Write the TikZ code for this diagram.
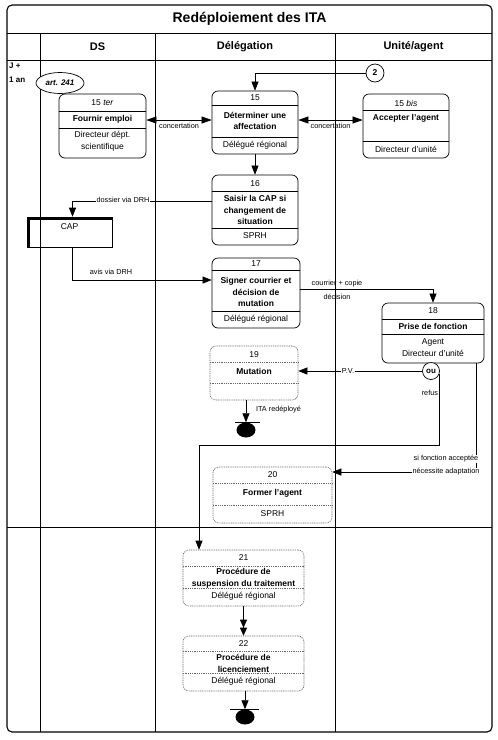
\documentclass[tikz,border=0pt]{standalone}
\usepackage{fontspec}
\setmainfont{Liberation Sans}
\usetikzlibrary{arrows.meta,shapes.geometric}

\tikzset{
  stepbox/.style={draw, rounded corners=6pt, line width=0.7pt, inner sep=0pt},
  dotbox/.style={draw=black!60, dash pattern=on 1pt off 0.8pt, rounded corners=6pt, line width=0.6pt, inner sep=0pt},
  trait/.style={line width=0.5pt},
  traitp/.style={draw=black!60, dash pattern=on 1pt off 0.8pt, line width=0.5pt},
  ligne/.style={line width=0.6pt},
  titre/.style={font=\bfseries\fontsize{14}{16}\selectfont, inner sep=0pt},
  entete/.style={font=\bfseries\fontsize{11}{13}\selectfont, inner sep=0pt},
  num/.style={font=\fontsize{8.5}{11}\selectfont, inner sep=0pt},
  gras/.style={font=\bfseries\fontsize{8.5}{11.5}\selectfont, align=center, inner sep=0pt},
  resp/.style={font=\fontsize{8.5}{12}\selectfont, align=center, inner sep=0pt},
  lbl/.style={font=\fontsize{7.3}{9}\selectfont, inner sep=0.8pt},
  fleche/.style={-{Triangle[length=9pt,width=7pt]}, line width=0.6pt},
  fin/.style={ellipse, fill=black, minimum width=19pt, minimum height=15pt, inner sep=0pt},
}

\begin{document}
\begin{tikzpicture}[x=1pt,y=-1pt]
\useasboundingbox (0,0) rectangle (498,740);

% cadre et couloirs
\draw[line width=1.1pt, rounded corners=5pt] (7,5) rectangle (492,732);
\draw[ligne] (7,33) -- (492,33);
\draw[ligne] (7,60) -- (492,60);
\draw[ligne] (7,527) -- (492,527);
\draw[ligne] (40,33) -- (40,732);
\draw[ligne] (155,33) -- (155,732);
\draw[ligne] (335,33) -- (335,732);

\node[titre] (titre) at (249.5,19) {Redéploiement des ITA};
\node[entete] (hds) at (97.5,47) {DS};
\node[entete] (hdel) at (245,47) {Délégation};
\node[entete] (hua) at (413.5,47) {Unité/agent};
\node[font=\bfseries\fontsize{8}{14}\selectfont, align=left, anchor=west, inner sep=0pt] (jour) at (9,73) {J +\\1 an};
\node[draw, ellipse, fill=white, line width=0.7pt, minimum width=48pt, minimum height=21pt, inner sep=0pt,
      font=\bfseries\itshape\fontsize{8}{9}\selectfont] (art) at (60,83) {art. 241};

% 15 ter
\node[stepbox, minimum width=87pt, minimum height=64pt] (b15ter) at (102.5,126) {};
\draw[trait] (b15ter.west |- 0,111) -- (b15ter.east |- 0,111);
\draw[trait] (b15ter.west |- 0,128) -- (b15ter.east |- 0,128);
\node[num] (n15ter) at (102.5,103) {15 \textit{ter}};
\node[gras] (a15ter) at (102.5,119) {Fournir emploi};
\node[resp] (r15ter) at (102.5,141) {Directeur dépt.\\scientifique};

% 15
\node[stepbox, minimum width=86pt, minimum height=63pt] (b15) at (255,122.5) {};
\draw[trait] (b15.west |- 0,105) -- (b15.east |- 0,105);
\draw[trait] (b15.west |- 0,137) -- (b15.east |- 0,137);
\node[num] (n15) at (255,98) {15};
\node[gras] (a15) at (255,121) {Déterminer une\\affectation};
\node[resp] (r15) at (255,145) {Délégué régional};

% 15 bis
\node[stepbox, minimum width=86pt, minimum height=64pt] (b15bis) at (406,126) {};
\draw[trait] (b15bis.west |- 0,110) -- (b15bis.east |- 0,110);
\draw[trait] (b15bis.west |- 0,141) -- (b15bis.east |- 0,141);
\node[num] (n15bis) at (406,103) {15 \textit{bis}};
\node[gras] (a15bis) at (406,118) {Accepter l'agent};
\node[resp] (r15bis) at (406,149) {Directeur d'unité};

% 16
\node[stepbox, minimum width=86pt, minimum height=70pt] (b16) at (255,210) {};
\draw[trait] (b16.west |- 0,191) -- (b16.east |- 0,191);
\draw[trait] (b16.west |- 0,228) -- (b16.east |- 0,228);
\node[num] (n16) at (255,184) {16};
\node[gras] (a16) at (255,210) {Saisir la CAP si\\changement de\\situation};
\node[resp] (r16) at (255,236) {SPRH};

% CAP
\node[draw, line width=0.6pt, minimum width=85pt, minimum height=30pt, inner sep=0pt] (cap) at (69.5,232) {};
\draw[line width=3pt] ([xshift=1.5pt]cap.south west) -- ([xshift=1.5pt,yshift=-1.5pt]cap.north west) -- ([yshift=-1.5pt]cap.north east);
\node[num] (tcap) at (69.5,227) {CAP};

% 17
\node[stepbox, minimum width=88pt, minimum height=70pt] (b17) at (256,293) {};
\draw[trait] (b17.west |- 0,270) -- (b17.east |- 0,270);
\draw[trait] (b17.west |- 0,311) -- (b17.east |- 0,311);
\node[num] (n17) at (256,264) {17};
\node[gras] (a17) at (256,292) {Signer courrier et\\décision de\\mutation};
\node[resp] (r17) at (256,319) {Délégué régional};

% 18
\node[stepbox, minimum width=102pt, minimum height=60pt] (b18) at (433,333) {};
\draw[trait] (b18.west |- 0,319) -- (b18.east |- 0,319);
\draw[trait] (b18.west |- 0,334) -- (b18.east |- 0,334);
\node[num] (n18) at (433,311) {18};
\node[gras] (a18) at (433,326.5) {Prise de fonction};
\node[resp] (r18) at (433,347.5) {Agent\\Directeur d'unité};
\node[draw, circle, fill=white, line width=0.7pt, minimum size=17pt, inner sep=0pt,
      font=\bfseries\fontsize{8}{9}\selectfont] (ou) at (431,371) {ou};

% 19
\node[dotbox, minimum width=88pt, minimum height=54pt] (b19) at (254,373) {};
\draw[traitp] (b19.west |- 0,362) -- (b19.east |- 0,362);
\draw[traitp] (b19.west |- 0,383) -- (b19.east |- 0,383);
\node[num] (n19) at (254,355) {19};
\node[gras] (a19) at (254,371) {Mutation};
\node[fin] (fin19) at (246,430) {};
\draw[line width=0.7pt] ([xshift=-11pt]fin19.north) -- ([xshift=14pt]fin19.north);

% 20
\node[dotbox, minimum width=119pt, minimum height=56pt] (b20) at (272.5,495) {};
\draw[traitp] (b20.west |- 0,483) -- (b20.east |- 0,483);
\draw[traitp] (b20.west |- 0,505) -- (b20.east |- 0,505);
\node[num] (n20) at (272.5,475) {20};
\node[gras] (a20) at (272.5,493) {Former l'agent};
\node[resp] (r20) at (272.5,514) {SPRH};

% 21
\node[dotbox, minimum width=121pt, minimum height=56pt] (b21) at (243.5,578) {};
\draw[traitp] (b21.west |- 0,566) -- (b21.east |- 0,566);
\draw[traitp] (b21.west |- 0,588) -- (b21.east |- 0,588);
\node[num] (n21) at (243.5,558) {21};
\node[gras] (a21) at (243.5,578.5) {Procédure de\\suspension du traitement};
\node[resp] (r21) at (243.5,596.5) {Délégué régional};

% 22
\node[dotbox, minimum width=121pt, minimum height=55pt] (b22) at (243.5,663.5) {};
\draw[traitp] (b22.west |- 0,651) -- (b22.east |- 0,651);
\draw[traitp] (b22.west |- 0,673) -- (b22.east |- 0,673);
\node[num] (n22) at (243.5,644) {22};
\node[gras] (a22) at (243.5,663.5) {Procédure de\\licenciement};
\node[resp] (r22) at (243.5,681.5) {Délégué régional};
\node[fin] (fin22) at (245,717) {};
\draw[line width=0.7pt] ([xshift=-15pt]fin22.north) -- ([xshift=14pt]fin22.north);

% connecteurs
\node[draw, circle, fill=white, line width=0.7pt, minimum size=18pt, inner sep=0pt,
      font=\bfseries\fontsize{8.5}{9}\selectfont] (c2) at (375,73) {2};
\draw[fleche] (c2.west) -| (b15.north);

\draw[{Triangle[length=10pt,width=7pt]}-{Triangle[length=10pt,width=7pt]}, line width=0.6pt]
  ([yshift=6pt]b15ter.east) -- ([yshift=2.5pt]b15.west) node[midway, below=2pt, lbl] (lconc1) {concertation};
\draw[{Triangle[length=10pt,width=7pt]}-{Triangle[length=10pt,width=7pt]}, line width=0.6pt]
  ([yshift=2.5pt]b15.east) -- ([yshift=6pt]b15bis.west) node[midway, below=2pt, lbl] (lconc2) {concertation};

\draw[fleche] (b15.south) -- (b16.north);

\draw[fleche] ([yshift=9pt]b16.west) -| ([xshift=3pt]cap.north);
\node[lbl, fill=white] (ldossier) at (123,200) {dossier via DRH};

\draw[fleche] ([xshift=3pt]cap.south) |- ([yshift=13pt]b17.west);
\node[lbl] (lavis) at (111,272) {avis via DRH};

\draw[fleche] ([yshift=4pt]b17.east) -| (b18.north);
\node[lbl] (lcourrier) at (337,284) {courrier + copie};
\node[lbl] (ldecision) at (337,297) {décision};

\draw[fleche] (ou.west) -- (ou.west -| b19.east);
\node[lbl, fill=white] (lpv) at (348,371) {P.V.};

\draw[fleche] (b19.south -| fin19.north) -- (fin19.north);
\node[lbl, anchor=west] (lita) at (255,410) {ITA redéployé};

\coordinate (refus) at (199,445);
\draw[fleche] (ou.-20) |- (refus) -- (refus |- b21.north);
\node[lbl, anchor=east] (lrefus) at (439,393) {refus};

\coordinate (adapt) at (476,472);
\draw[fleche] (b18.south -| adapt) -- (adapt) -- (adapt -| b20.east);
\node[lbl, fill=white] (lsi) at (446,459) {si fonction acceptée};
\node[lbl, fill=white] (lnec) at (446,472) {nécessite adaptation};

\draw[-{Triangle[length=8pt,width=7pt] Triangle[length=8pt,width=7pt]}, line width=0.6pt] (b21.south) -- (b22.north);
\draw[fleche] (b22.south -| fin22.north) -- (fin22.north);

\end{tikzpicture}
\end{document}
